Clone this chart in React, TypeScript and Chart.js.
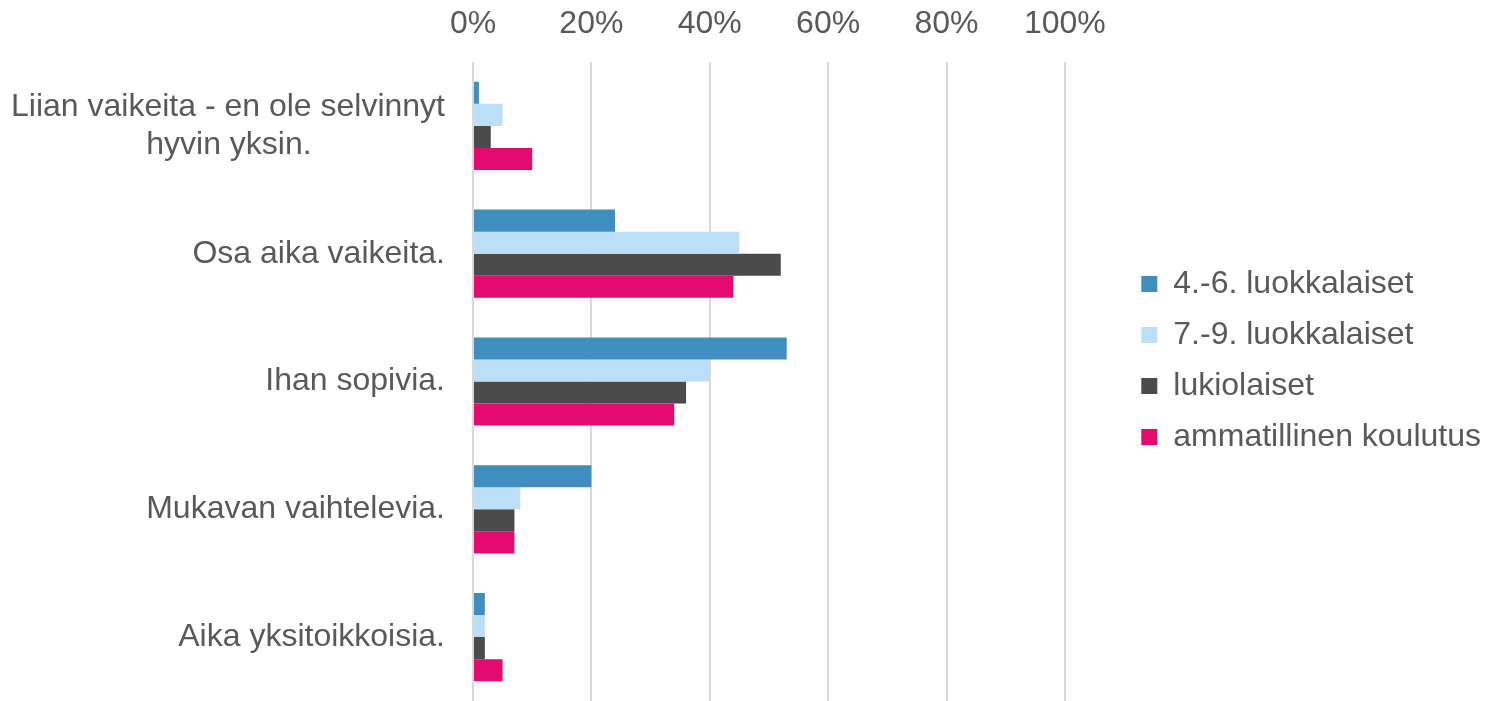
import React, { useEffect, useRef } from "react";
import { Chart, registerables } from "chart.js";

Chart.register(...registerables);

const categories: (string | string[])[] = [
  ["Liian vaikeita - en ole selvinnyt", "hyvin yksin.               "],
  "Osa aika vaikeita.",
  "Ihan sopivia.",
  "Mukavan vaihtelevia.",
  "Aika yksitoikkoisia.",
];

const seriesNames = [
  "4.-6. luokkalaiset",
  "7.-9. luokkalaiset",
  "lukiolaiset",
  "ammatillinen koulutus",
];

const grade4to6 = [1, 24, 53, 20, 2];
const grade7to9 = [5, 45, 40, 8, 2];
const upperSecondary = [3, 52, 36, 7, 2];
const vocational = [10, 44, 34, 7, 5];

const seriesColors = ["#3F8EBF", "#BDDEF7", "#4B4B4B", "#E30B6D"];

const xTicks = [0, 20, 40, 60, 80, 100];

export default function App() {
  const ref = useRef<HTMLCanvasElement | null>(null);

  useEffect(() => {
    if (!ref.current) return;
    const values = [grade4to6, grade7to9, upperSecondary, vocational];
    const font = { family: "'Liberation Sans', Arial, sans-serif", size: 32 };
    const chart = new Chart(ref.current, {
      type: "bar",
      data: {
        labels: categories,
        datasets: values.map((v, i) => ({
          label: seriesNames[i],
          data: v,
          backgroundColor: seriesColors[i],
          borderWidth: 0,
          categoryPercentage: 0.69,
          barPercentage: 1,
        })),
      },
      options: {
        indexAxis: "y",
        animation: false,
        responsive: false,
        maintainAspectRatio: false,
        layout: { padding: { top: 0, right: -6, bottom: 0, left: 0 } },
        plugins: {
          legend: {
            position: "right",
            title: {
              display: true,
              text: " ",
              padding: 0,
              font: { size: 16, lineHeight: 1.25 },
            },
            labels: {
              font,
              color: "#595959",
              boxWidth: 16,
              boxHeight: 16,
              padding: 19,
            },
          },
          tooltip: { enabled: false },
        },
        scales: {
          x: {
            position: "top",
            min: 0,
            max: 109.7,
            afterBuildTicks: (s: any) => {
              s.ticks = xTicks.map((v) => ({ value: v }));
            },
            afterFit: (s: any) => {
              s.height = 62;
            },
            ticks: {
              font,
              color: "#595959",
              padding: 19,
              callback: (v: any) => v + "%",
            },
            grid: { color: "#D9D9D9", lineWidth: 2, drawTicks: false },
            border: { display: false },
          },
          y: {
            afterFit: (s: any) => {
              s.width = 473;
              s.paddingTop = 0;
              s.paddingBottom = 0;
            },
            ticks: { font, color: "#595959", padding: 28 },
            grid: { display: false, drawTicks: false },
            border: { display: false },
          },
        },
      },
    } as any);
    return () => chart.destroy();
  }, []);

  return (
    <div style={{ position: "fixed", left: 0, top: 0, width: 1485, height: 701, background: "#fff" }}>
      <canvas ref={ref} width={1485} height={701} style={{ width: 1485, height: 701, display: "block" }} />
    </div>
  );
}
